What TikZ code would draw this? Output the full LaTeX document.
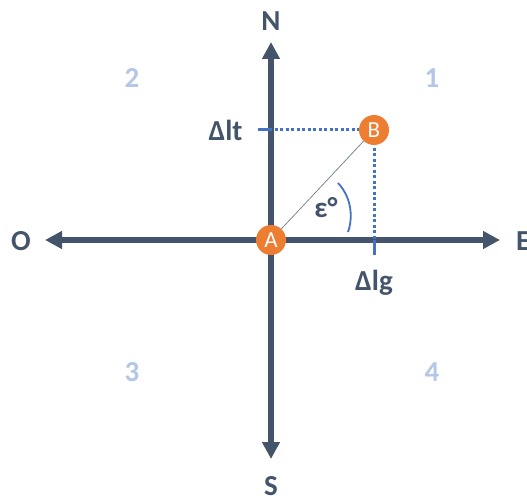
\documentclass[tikz,border=0pt]{standalone}
\usepackage{fontspec}
\setmainfont{Carlito}
\usetikzlibrary{arrows.meta}
\definecolor{slate}{HTML}{44546A}
\definecolor{pointorange}{HTML}{ED7D31}
\definecolor{dotblue}{HTML}{4472C4}
\definecolor{quadblue}{HTML}{B4C7E7}
\begin{document}
\begin{tikzpicture}[
  x=1pt,y=-1pt,
  axis/.style={{Triangle[width=17pt,length=17pt]}-{Triangle[width=17pt,length=17pt]},slate,line width=5.5pt},
  cardinal/.style={slate,inner sep=0pt,font=\fontsize{29}{29}\selectfont\bfseries},
  quadrant/.style={quadblue,font=\fontsize{29}{29}\selectfont\bfseries},
  delta/.style={slate,font=\fontsize{29}{29}\selectfont\bfseries},
  point/.style={circle,fill=pointorange,minimum size=30pt,inner sep=0pt,text=white,font=\fontsize{23}{23}\selectfont},
  dotline/.style={dotblue,line width=3pt,dash pattern=on 3pt off 2.5pt},
  tickline/.style={dotblue,line width=3pt},
  segment/.style={slate!70,line width=0.8pt},
  anglearc/.style={dotblue,line width=1.8pt}
]
  \useasboundingbox (0,0) rectangle (527,500);
  \def\ax{271}
  \def\ay{240}
  \def\bx{374}
  \def\by{130}

  % axes
  \coordinate (ntip) at (\ax,42);
  \coordinate (stip) at (\ax,459);
  \coordinate (otip) at (45,\ay);
  \coordinate (etip) at (500,\ay);
  \draw[axis] (otip) -- (etip);
  \draw[axis] (stip) -- (ntip);

  \node[cardinal] (north) at (\ax,21) {N};
  \node[cardinal] (south) at (\ax,486) {S};
  \node[cardinal] (west) at (21,241) {O};
  \node[cardinal,anchor=west] (east) at (516,241) {E};

  \node[quadrant] (q1) at (432,78) {1};
  \node[quadrant] (q2) at (132,78) {2};
  \node[quadrant] (q3) at (132,372) {3};
  \node[quadrant] (q4) at (432,372) {4};

  % projections of B
  \coordinate (lt) at (258,\by);
  \coordinate (lg) at (\bx,255);
  \draw[dotline] (lt) -- (\bx,\by);
  \draw[dotline] (lg) -- (\bx,\by);
  \draw[tickline] (lt) -- (\ax,\by);
  \draw[tickline] (lg) -- (\bx,\ay);
  \node[delta,anchor=east] (dlt) at (246,130) {Δlt};
  \node[delta] (dlg) at (374,283) {Δlg};

  \node[point] (A) at (\ax,\ay) {A};
  \node[point] (B) at (\bx,\by) {B};
  \draw[segment] (A) -- (B);

  % angle
  \draw[anglearc] (338,183) .. controls (352,198) and (353,218) .. (348,232);
  \node[delta] (eps) at (326,208) {ε°};
\end{tikzpicture}
\end{document}
